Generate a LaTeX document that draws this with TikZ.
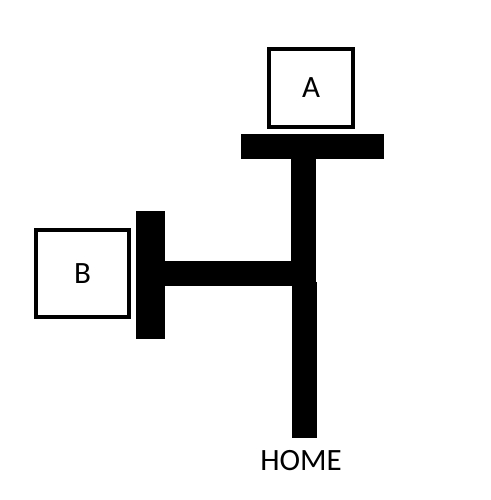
\documentclass[tikz,border=0pt]{standalone}
\usepackage{fontspec}
\setmainfont{Carlito}
\begin{document}
\begin{tikzpicture}[x=1pt,y=-1pt,
  boxnode/.style={draw=black,line width=4pt,fill=white,inner sep=0pt,font=\fontsize{31}{31}\selectfont},
  bar/.style={fill=black,draw=none},
  label/.style={inner sep=0pt,font=\fontsize{31}{31}\selectfont}]
\useasboundingbox (0,0) rectangle (490,500);
\fill[white] (0,0) rectangle (490,500);
% bars
\fill[bar] (241,134) rectangle (384,159);   % top bar
\fill[bar] (291,159) rectangle (316,283);   % upper stem
\fill[bar] (292,282) rectangle (317,438);   % lower stem
\fill[bar] (165,261) rectangle (292,286);   % horizontal bar
\fill[bar] (136,211) rectangle (165,339);   % left bar
% boxes
\node[boxnode,minimum width=84pt,minimum height=78pt] (A) at (311,88) {A};
\node[boxnode,minimum width=93pt,minimum height=87pt] (B) at (82.5,273.5) {B};
\node[label] (home) at (301,460.5) {HOME};
\end{tikzpicture}
\end{document}
